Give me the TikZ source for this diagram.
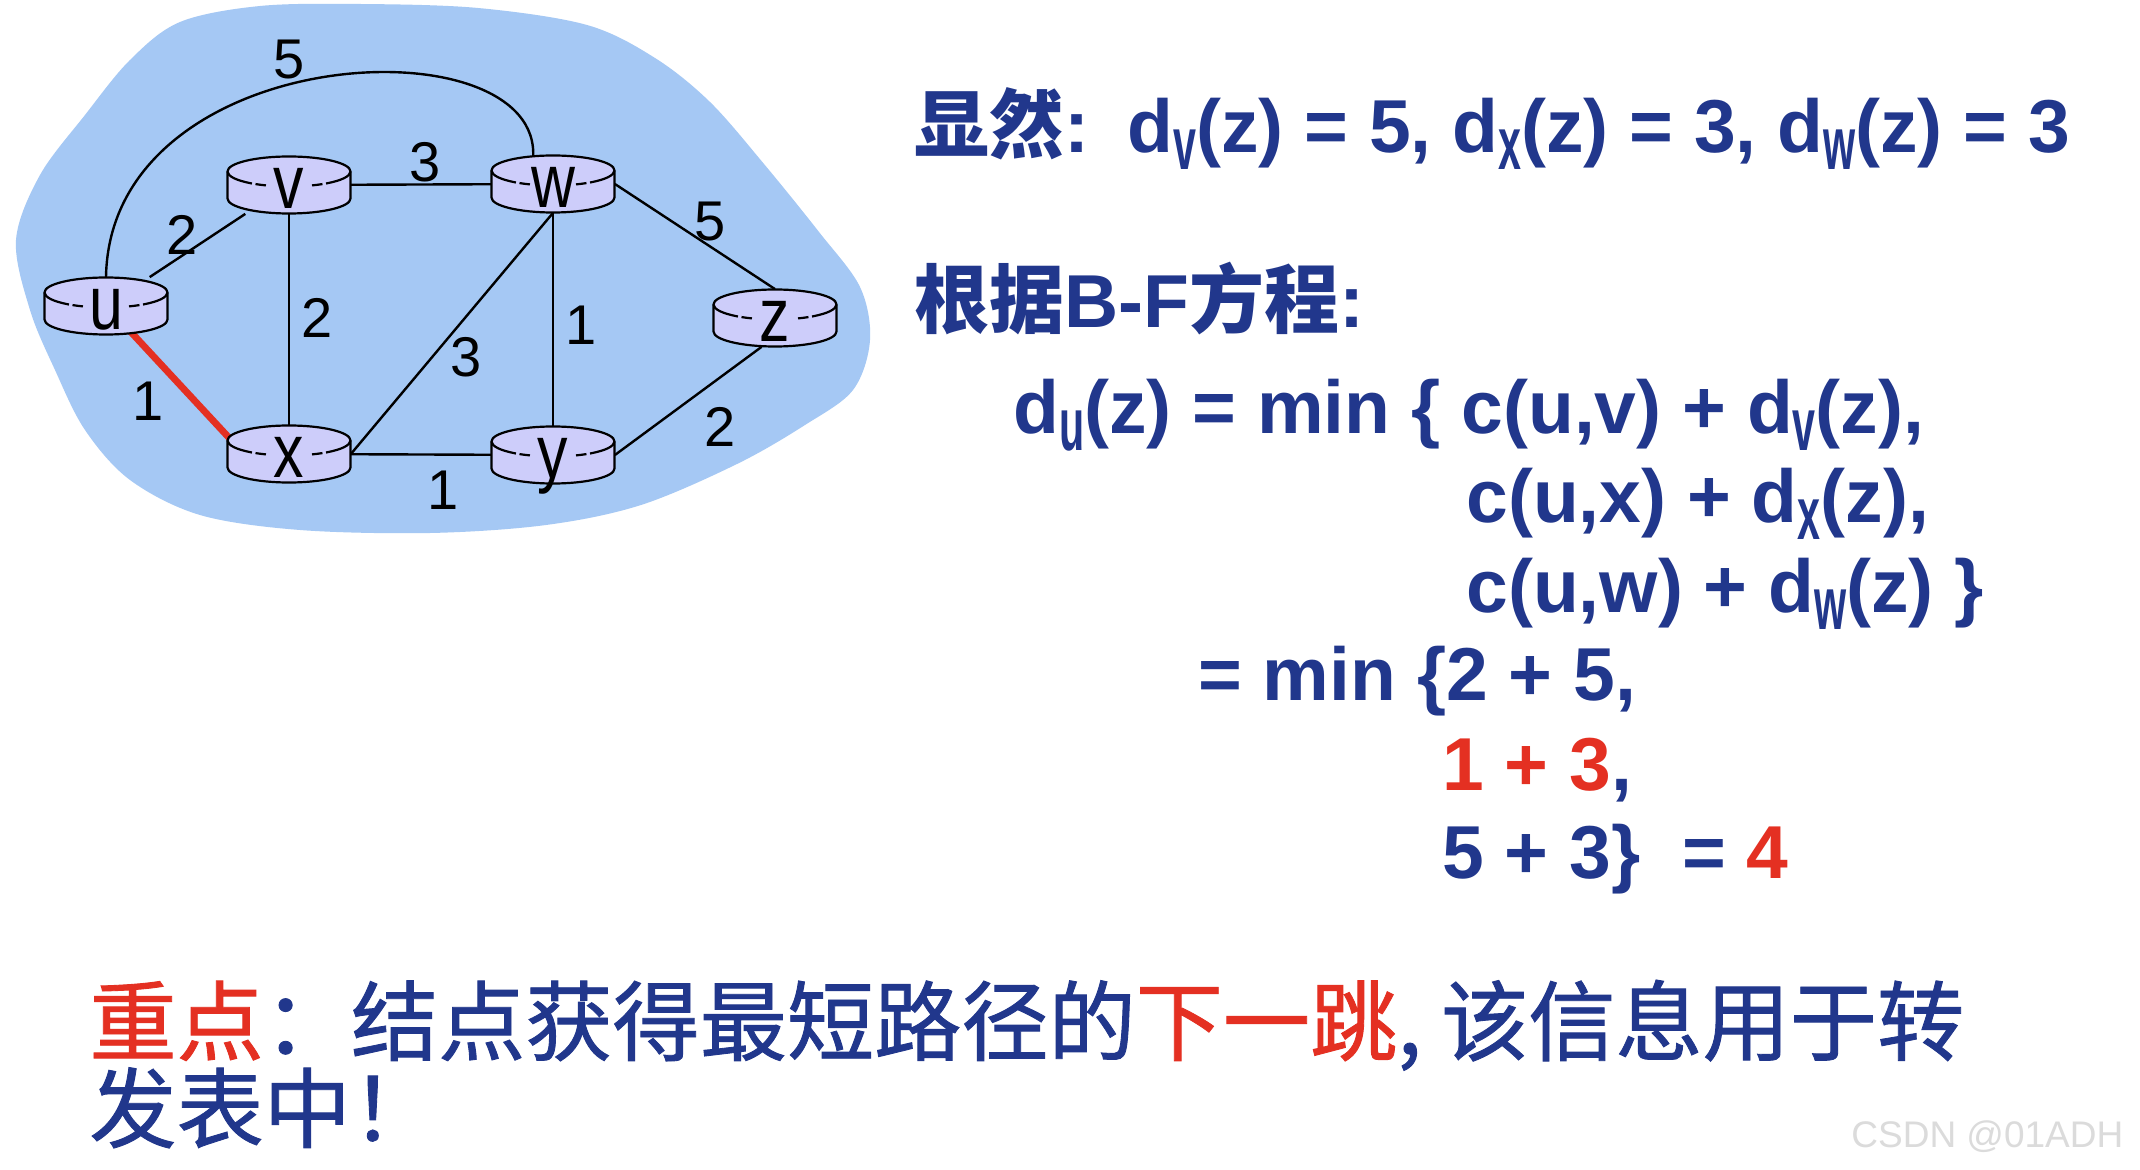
\documentclass[tikz,border=0pt]{standalone}
\usepackage{fontspec}
\usepackage{graphicx}
\setmainfont{Liberation Sans}
\newfontfamily\cjk{Noto Sans CJK SC}
\newfontfamily\cjkm{Noto Sans CJK SC}[FakeBold=1]
\usetikzlibrary{calc}
\definecolor{blobblue}{RGB}{165,200,244}
\definecolor{routerfill}{RGB}{205,205,250}
\definecolor{tblue}{RGB}{33,55,140}
\definecolor{tred}{RGB}{228,48,34}
\newcommand\sbs[1]{\raisebox{-8.5pt}{\scalebox{0.55}[1]{#1}}}
\newcommand\routericon[2]{%
  \begin{scope}[shift={(#1)}, line width=1.1pt]
    \filldraw[fill=routerfill, draw=black]
      (-61.5,-13.5) -- (-61.5,13.5)
      arc[start angle=180, end angle=0, x radius=61.5, y radius=15]
      -- (61.5,-13.5)
      arc[start angle=0, end angle=-180, x radius=61.5, y radius=15] -- cycle;
    \draw (-61.5,-13.5) arc[start angle=180, end angle=127, x radius=61.5, y radius=15];
    \draw (-33.5,-0.92) arc[start angle=123, end angle=112, x radius=61.5, y radius=15];
    \draw (23.0,0.41) arc[start angle=68, end angle=57, x radius=61.5, y radius=15];
    \draw (37.0,-1.52) arc[start angle=53, end angle=0, x radius=61.5, y radius=15];
  \end{scope}
  \node[rlabel] (#1l) at ($(#1)+(0,24)$) {\scalebox{0.8}[1]{#2}};
}
\tikzset{
  rbox/.style={draw=none, inner sep=0pt, minimum width=61.5pt, minimum height=28.5pt},
  rlabel/.style={anchor=base, inner sep=0pt, font=\fontsize{38pt}{42pt}\selectfont},
  edge/.style={line width=1.2pt, draw=black},
  rededge/.style={line width=3.4pt, draw=tred},
  elabel/.style={inner sep=0pt, font=\fontsize{28pt}{32pt}\selectfont},
  txt/.style={anchor=base west, inner sep=0pt, text=tblue, font=\fontsize{37.5pt}{45pt}\selectfont\bfseries},
  cjktxt/.style={anchor=base west, inner sep=0pt, text=tblue, font=\fontsize{43.6pt}{50pt}\selectfont\cjkm},
}
\begin{document}
\begin{tikzpicture}[x=0.5pt, y=-0.5pt]
\useasboundingbox (0,0) rectangle (2140,1170);
\fill[white] (0,0) rectangle (2140,1170);
% cloud
\fill[blobblue] plot[smooth cycle, tension=0.55] coordinates {
 (16,240) (40,175) (85,115) (130,60) (180,22) (260,6) (360,4) (478,8)
 (587,25) (655,58) (710,102) (764,164) (819,232) (860,287) (870,340)
 (853,390) (805,425) (737,464) (641,505) (546,525) (430,533) (300,530)
 (200,515) (130,480) (85,430) (55,370) (30,310)};
% router anchors
\node[rbox] (u) at (106,306) {};
\node[rbox] (v) at (289,185) {};
\node[rbox] (w) at (553,184) {};
\node[rbox] (z) at (775,318) {};
\node[rbox] (x) at (289,454) {};
\node[rbox] (y) at (553,455) {};
% links
\draw[edge] (u.north) .. controls ($(u.north)+(4,-238)$) and ($(w.north)+(-8,-135)$) .. ($(w.north)+(-20,4)$);
\draw[edge] (u) -- (v);
\draw[edge] (v) -- (w);
\draw[edge] (v) -- (x);
\draw[edge] (w.south) -- (x.east);
\draw[edge] (w) -- (y);
\draw[edge] (x) -- (y);
\draw[edge] (w.east) -- (z.north);
\draw[edge] (y.east) -- (z.-115);
\draw[rededge] ($(u.south)+(22,-6)$) -- ($(x.west)+(4,-14)$);
% routers
\routericon{u}{u}
\routericon{v}{v}
\routericon{w}{w}
\routericon{z}{z}
\routericon{x}{x}
\routericon{y}{y}
% link costs
\node[elabel] (c1) at (289,60) {5};
\node[elabel] (c2) at (425,162) {3};
\node[elabel] (c3) at (182,235) {2};
\node[elabel] (c4) at (317,318) {2};
\node[elabel] (c5) at (466,357) {3};
\node[elabel] (c6) at (581,325) {1};
\node[elabel] (c7) at (710,222) {5};
\node[elabel] (c8) at (148,401) {1};
\node[elabel] (c9) at (443,490) {1};
\node[elabel] (c10) at (720,427) {2};
% text
\node[txt] (t1a) at (914,153) {{\cjk 显然}:};
\node[txt] (t1b) at (1127,153) {d\sbs{v}(z) = 5, d\sbs{x}(z) = 3, d\sbs{w}(z) = 3};
\node[txt] (t2) at (914,328) {{\cjk 根据}B-F{\cjk 方程}:};
\node[txt] (t3) at (1013,434) {d\sbs{u}(z) = min \{ c(u,v) + d\sbs{v}(z),};
\node[txt] (t4) at (1466,523) {c(u,x) + d\sbs{x}(z),};
\node[txt] (t5) at (1466,612) {c(u,w) + d\sbs{w}(z) \}};
\node[txt] (t6) at (1198,700) {= min \{2 + 5,};
\node[txt] (t7) at (1442,790) {\textcolor{tred}{1 + 3},};
\node[txt] (t8) at (1442,878) {5 + 3\}\ \ = \textcolor{tred}{4}};
\node[cjktxt] (b1) at (89,1054) {\textcolor{tred}{重点}：结点获得最短路径的\textcolor{tred}{下一跳}, 该信息用于转};
\node[cjktxt] (b2) at (89,1141) {发表中！};
\node[anchor=base west, inner sep=0pt, text=black!14, font=\fontsize{18.5pt}{22pt}\selectfont] (wm) at (1851,1147) {CSDN @01ADH};
\end{tikzpicture}
\end{document}
